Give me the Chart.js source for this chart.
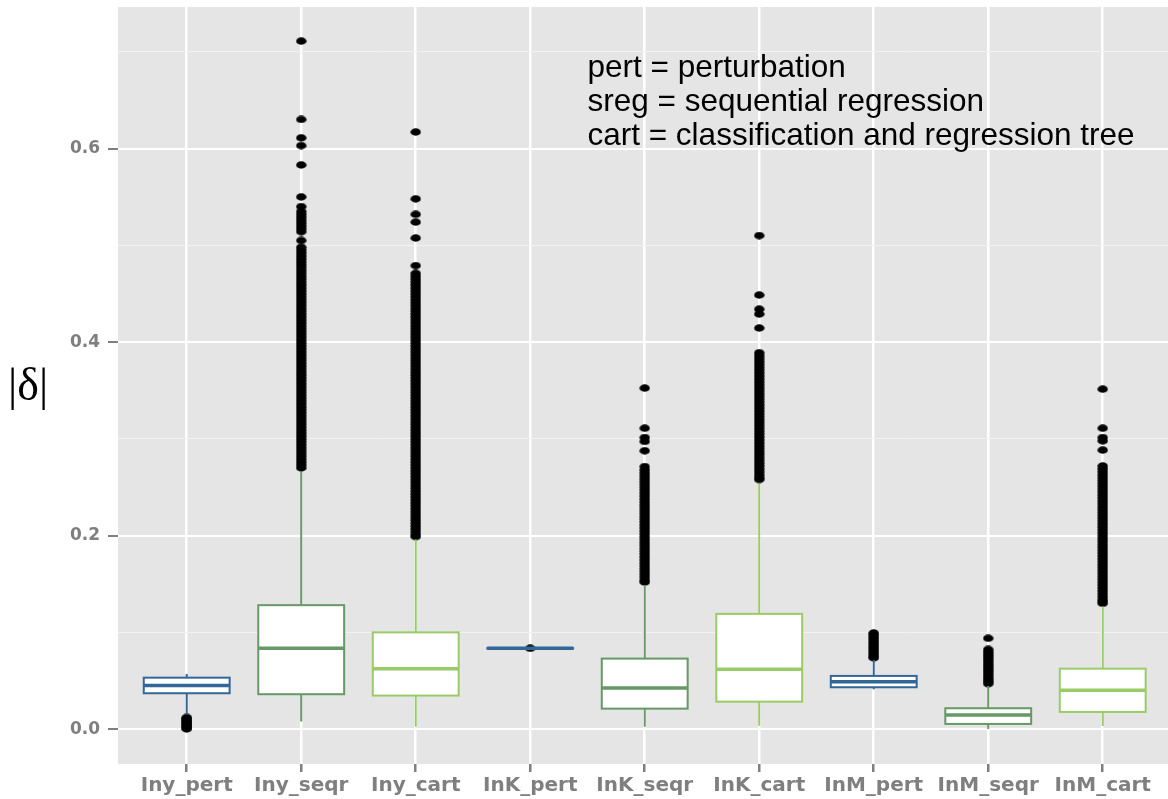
<!DOCTYPE html>
<html>
<head>
<meta charset="utf-8">
<title>|δ| by imputation method</title>
<script src="https://cdn.jsdelivr.net/npm/chart.js@4/dist/chart.umd.min.js"></script>
<style>
  html, body { margin: 0; padding: 0; background: #ffffff; overflow: hidden; }
  #wrap { width: 1168px; height: 799px; position: relative; }
</style>
</head>
<body>
<div id="wrap"><canvas id="chart" width="1168" height="799"></canvas></div>
<script>
// Categories (variable_method)
const categories = ['Iny_pert', 'Iny_seqr', 'Iny_cart', 'InK_pert', 'InK_seqr', 'InK_cart', 'InM_pert', 'InM_seqr', 'InM_cart'];

// Box statistics per category
const lowerWhisker = [0.0158, 0.0079, 0.0027, 0.0834, 0.0027, 0.0037, 0.0413, 0.0003, 0.0034];
const q1           = [0.0372, 0.0362, 0.0348, 0.0834, 0.0213, 0.0285, 0.0434, 0.0055, 0.0179];
const median       = [0.0451, 0.0837, 0.0625, 0.0836, 0.0427, 0.0620, 0.0492, 0.0148, 0.0403];
const q3           = [0.0533, 0.1282, 0.1001, 0.0838, 0.0730, 0.1192, 0.0551, 0.0217, 0.0626];
const upperWhisker = [0.0572, 0.2660, 0.1960, 0.0838, 0.1490, 0.2540, 0.0716, 0.0448, 0.1267];

// Outlying values per category
const outIny_pert = [0.0003, 0.0014, 0.0026, 0.0038, 0.0050, 0.0062, 0.0075, 0.0087, 0.0099, 0.0111, 0.0122];
const outIny_seqr = [0.711, 0.630, 0.611, 0.603, 0.583, 0.550, 0.540,
  0.535, 0.532, 0.529, 0.526, 0.523, 0.520, 0.517, 0.514, 0.505,
  0.498, 0.495, 0.492, 0.489, 0.486, 0.483, 0.480, 0.477, 0.474, 0.471, 0.468, 0.465, 0.462,
  0.459, 0.456, 0.453, 0.450, 0.447, 0.444, 0.441, 0.438, 0.435, 0.432, 0.429, 0.426, 0.423,
  0.420, 0.417, 0.414, 0.411, 0.408, 0.405, 0.402, 0.399, 0.396, 0.393, 0.390, 0.387, 0.384,
  0.381, 0.378, 0.375, 0.372, 0.369, 0.366, 0.363, 0.360, 0.357, 0.354, 0.351, 0.348, 0.345,
  0.342, 0.339, 0.336, 0.333, 0.330, 0.327, 0.324, 0.321, 0.318, 0.315, 0.312, 0.309, 0.306,
  0.303, 0.300, 0.297, 0.294, 0.291, 0.288, 0.285, 0.282, 0.279, 0.276, 0.273, 0.270];
const outIny_cart = [0.617, 0.548, 0.532, 0.524, 0.5075, 0.479,
  0.471, 0.468, 0.465, 0.462, 0.459, 0.456, 0.453, 0.450, 0.447, 0.444, 0.441, 0.438, 0.435,
  0.432, 0.429, 0.426, 0.423, 0.420, 0.417, 0.414, 0.411, 0.408, 0.405, 0.402, 0.399, 0.396,
  0.393, 0.390, 0.387, 0.384, 0.381, 0.378, 0.375, 0.372, 0.369, 0.366, 0.363, 0.360, 0.357,
  0.354, 0.351, 0.348, 0.345, 0.342, 0.339, 0.336, 0.333, 0.330, 0.327, 0.324, 0.321, 0.318,
  0.315, 0.312, 0.309, 0.306, 0.303, 0.300, 0.297, 0.294, 0.291, 0.288, 0.285, 0.282, 0.279,
  0.276, 0.273, 0.270, 0.267, 0.264, 0.261, 0.258, 0.255, 0.252, 0.249, 0.246, 0.243, 0.240,
  0.237, 0.234, 0.231, 0.228, 0.225, 0.222, 0.219, 0.216, 0.213, 0.210, 0.207, 0.204, 0.201, 0.199];
const outInK_pert = [0.0836];
const outInK_seqr = [0.3525, 0.311, 0.3014, 0.2973, 0.2877,
  0.2714, 0.268, 0.265, 0.262, 0.259, 0.256, 0.253, 0.250, 0.247, 0.244, 0.241, 0.238, 0.235,
  0.232, 0.229, 0.226, 0.223, 0.220, 0.217, 0.214, 0.211, 0.208, 0.205, 0.202, 0.199, 0.196,
  0.193, 0.190, 0.187, 0.184, 0.181, 0.178, 0.175, 0.172, 0.169, 0.166, 0.163, 0.160, 0.157,
  0.154, 0.152];
const outInK_cart = [0.510, 0.4486, 0.434, 0.429, 0.4145,
  0.389, 0.386, 0.383, 0.380, 0.377, 0.374, 0.371, 0.368, 0.365, 0.362, 0.359, 0.356, 0.353,
  0.350, 0.347, 0.344, 0.341, 0.338, 0.335, 0.332, 0.329, 0.326, 0.323, 0.320, 0.317, 0.314,
  0.311, 0.308, 0.305, 0.302, 0.299, 0.296, 0.293, 0.290, 0.287, 0.284, 0.281, 0.278, 0.275,
  0.272, 0.269, 0.266, 0.263, 0.260, 0.258];
const outInM_pert = [0.0995, 0.0975, 0.0952, 0.0930, 0.0907, 0.0885, 0.0862, 0.0840, 0.0817,
  0.0795, 0.0772, 0.0752, 0.0737];
const outInM_seqr = [0.094, 0.0825, 0.0802, 0.0780, 0.0757, 0.0735, 0.0712, 0.0690, 0.0667,
  0.0645, 0.0622, 0.0600, 0.0577, 0.0555, 0.0532, 0.0510, 0.0490, 0.0470];
const outInM_cart = [0.3514, 0.311, 0.3014, 0.298, 0.2884,
  0.272, 0.269, 0.266, 0.263, 0.260, 0.257, 0.254, 0.251, 0.248, 0.245, 0.242, 0.239, 0.236,
  0.233, 0.230, 0.227, 0.224, 0.221, 0.218, 0.215, 0.212, 0.209, 0.206, 0.203, 0.200, 0.197,
  0.194, 0.191, 0.188, 0.185, 0.182, 0.179, 0.176, 0.173, 0.170, 0.167, 0.164, 0.161, 0.158,
  0.155, 0.152, 0.149, 0.146, 0.143, 0.140, 0.137, 0.134, 0.132, 0.130];
const outliers = [outIny_pert, outIny_seqr, outIny_cart, outInK_pert, outInK_seqr,
  outInK_cart, outInM_pert, outInM_seqr, outInM_cart];

// Y axis ticks (majors labelled, minors only gridded)
const yTicks = [0.0, 0.1, 0.2, 0.3, 0.4, 0.5, 0.6, 0.7];
const yTickLabels = ['0.0', '', '0.2', '', '0.4', '', '0.6', ''];

// Method key text
const noteLines = ['pert = perturbation', 'sreg = sequential regression', 'cart = classification and regression tree'];

// Colour per method
const methodColour = { pert: '#336699', seqr: '#669966', cart: '#99cc66' };
const boxColours = categories.map(c => methodColour[c.split('_')[1]]);

// Slightly flattened dot used for outliers
const dot = document.createElement('canvas');
dot.width = 11; dot.height = 8;
(function () {
  const c = dot.getContext('2d');
  c.fillStyle = '#000000';
  c.beginPath();
  c.ellipse(5.5, 4, 5.2, 3.7, 0, 0, Math.PI * 2);
  c.fill();
})();

const outlierPoints = [];
outliers.forEach((vals, i) => vals.forEach(v => outlierPoints.push({ x: i, y: v })));

const BOX_WIDTH = 0.75;

const panelBackground = {
  id: 'panelBackground',
  beforeDraw(chart) {
    const { ctx, chartArea: a } = chart;
    ctx.save();
    ctx.fillStyle = '#ffffff';
    ctx.fillRect(0, 0, chart.width, chart.height);
    ctx.fillStyle = '#e5e5e5';
    ctx.fillRect(a.left, a.top, a.right - a.left, a.bottom - a.top);
    ctx.restore();
  }
};

const boxes = {
  id: 'boxes',
  afterDatasetsDraw(chart) {
    const { ctx, scales: { x, y } } = chart;
    ctx.save();
    categories.forEach((c, i) => {
      const col = boxColours[i];
      const cx = x.getPixelForValue(i);
      const x0 = x.getPixelForValue(i - BOX_WIDTH / 2);
      const x1 = x.getPixelForValue(i + BOX_WIDTH / 2);
      const yLo = y.getPixelForValue(lowerWhisker[i]);
      const yQ1 = y.getPixelForValue(q1[i]);
      const yMed = y.getPixelForValue(median[i]);
      const yQ3 = y.getPixelForValue(q3[i]);
      const yHi = y.getPixelForValue(upperWhisker[i]);
      ctx.strokeStyle = col;
      ctx.lineWidth = 2;
      ctx.beginPath();
      ctx.moveTo(cx, yQ3); ctx.lineTo(cx, yHi);
      ctx.moveTo(cx, yQ1); ctx.lineTo(cx, yLo);
      ctx.stroke();
      ctx.fillStyle = '#ffffff';
      ctx.fillRect(x0, yQ3, x1 - x0, yQ1 - yQ3);
      ctx.lineWidth = 2;
      ctx.strokeRect(x0, yQ3, x1 - x0, yQ1 - yQ3);
      ctx.lineWidth = 3.5;
      ctx.beginPath();
      ctx.moveTo(x0, yMed); ctx.lineTo(x1, yMed);
      ctx.stroke();
    });
    ctx.restore();
  }
};

const annotations = {
  id: 'annotations',
  afterDraw(chart) {
    const { ctx, scales: { x, y }, chartArea: a } = chart;
    ctx.save();
    // y-axis title
    ctx.fillStyle = '#000000';
    ctx.font = '46px "Liberation Serif", "DejaVu Serif", serif';
    ctx.textAlign = 'left';
    ctx.textBaseline = 'middle';
    ctx.fillText('|δ|', 8, (a.top + a.bottom) / 2 + 2);
    // method key
    ctx.font = '31.5px "Liberation Sans", Arial, sans-serif';
    ctx.textBaseline = 'alphabetic';
    const lx = x.getPixelForValue(3.5);
    const baseY = [0.6742, 0.6390, 0.6038];
    noteLines.forEach((t, k) => ctx.fillText(t, lx, y.getPixelForValue(baseY[k])));
    ctx.restore();
  }
};

new Chart(document.getElementById('chart'), {
  type: 'scatter',
  data: {
    datasets: [{
      data: outlierPoints,
      pointStyle: dot,
      pointRadius: 5,
      pointHoverRadius: 5,
      backgroundColor: '#000000',
      borderColor: '#000000'
    }]
  },
  options: {
    responsive: false,
    devicePixelRatio: 1,
    animation: false,
    events: [],
    layout: { autoPadding: false, padding: { top: 7, right: 0, left: 0, bottom: 0 } },
    plugins: { legend: { display: false }, tooltip: { enabled: false } },
    scales: {
      x: {
        type: 'linear',
        min: -0.6,
        max: 8.57,
        afterBuildTicks: s => { s.ticks = categories.map((c, i) => ({ value: i })); },
        afterFit: s => { s.height = 35; s.paddingLeft = 0; s.paddingRight = 0; },
        ticks: {
          autoSkip: false,
          maxRotation: 0,
          padding: 2,
          color: '#7f7f7f',
          font: { family: '"DejaVu Sans", sans-serif', weight: 'bold', size: 20 },
          callback: v => categories[Math.round(v)]
        },
        grid: { color: '#ffffff', lineWidth: 2.5, tickColor: '#7f7f7f', tickLength: 8, drawTicks: true },
        border: { display: false }
      },
      y: {
        type: 'linear',
        min: -0.0359,
        max: 0.7462,
        afterBuildTicks: s => { s.ticks = yTicks.map(v => ({ value: v })); },
        afterFit: s => { s.width = 118; s.paddingTop = 0; s.paddingBottom = 0; },
        ticks: {
          padding: 8,
          color: '#7f7f7f',
          font: { family: '"DejaVu Sans", sans-serif', weight: 'bold', size: 17 },
          callback: (v, i) => yTickLabels[i]
        },
        grid: {
          color: c => (c.index % 2 === 0 ? '#ffffff' : '#f2f2f2'),
          lineWidth: c => (c.index % 2 === 0 ? 2 : 1),
          tickColor: c => (c.index % 2 === 0 ? '#7f7f7f' : 'rgba(0,0,0,0)'),
          tickLength: 10,
          drawTicks: true
        },
        border: { display: false }
      }
    }
  },
  plugins: [panelBackground, boxes, annotations]
});
</script>
</body>
</html>
